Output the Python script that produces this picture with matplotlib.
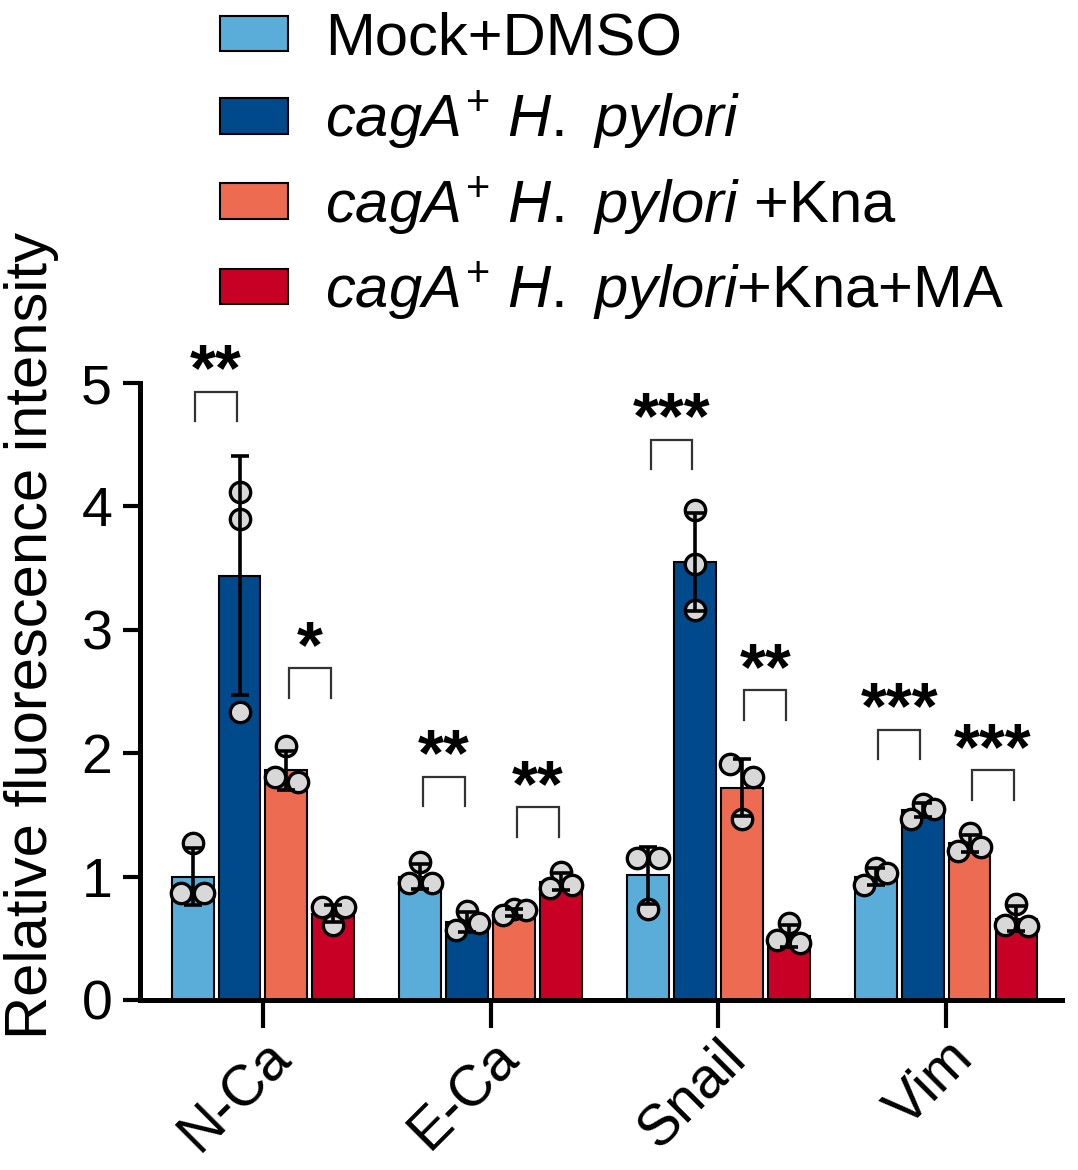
import numpy as np
import matplotlib
matplotlib.use("Agg")
import matplotlib.pyplot as plt
from matplotlib.patches import Patch

plt.rcParams['font.family'] = ['Liberation Sans', 'DejaVu Sans']
plt.rcParams['mathtext.fontset'] = 'custom'
plt.rcParams['mathtext.it'] = 'Liberation Sans:italic'
plt.rcParams['mathtext.rm'] = 'Liberation Sans'
plt.rcParams['mathtext.bf'] = 'Liberation Sans:bold'

# ---------------- data ----------------
categories = ["N-Ca", "E-Ca", "Snail", "Vim"]
series_labels = [
    "Mock+DMSO",
    r"$\mathit{cagA}^{+}$ $\mathit{H.}$ $\mathit{pylori}$",
    r"$\mathit{cagA}^{+}$ $\mathit{H.}$ $\mathit{pylori}$ +Kna",
    r"$\mathit{cagA}^{+}$ $\mathit{H.}$ $\mathit{pylori}$+Kna+MA",
]
mock_mean = [1.00, 1.00, 1.01, 1.00]
hp_mean = [3.44, 0.63, 3.55, 1.54]
kna_mean = [1.86, 0.71, 1.72, 1.27]
ma_mean = [0.70, 0.96, 0.52, 0.66]

mock_sd = [0.23, 0.10, 0.23, 0.07]
hp_sd = [0.97, 0.08, 0.40, 0.06]
kna_sd = [0.16, 0.03, 0.23, 0.07]
ma_sd = [0.07, 0.07, 0.09, 0.10]

mock_pts = [[1.27, 0.87, 0.87], [1.12, 0.95, 0.95], [1.15, 1.15, 0.74], [1.07, 1.03, 0.93]]
hp_pts = [[4.12, 3.90, 2.33], [0.72, 0.62, 0.57], [3.97, 3.53, 3.16], [1.59, 1.55, 1.47]]
kna_pts = [[2.06, 1.81, 1.77], [0.74, 0.73, 0.69], [1.91, 1.81, 1.47], [1.35, 1.24, 1.21]]
ma_pts = [[0.75, 0.75, 0.61], [1.04, 0.93, 0.91], [0.62, 0.49, 0.46], [0.78, 0.61, 0.60]]

# significance: (category, first series, second series, bracket top height, label)
sig_cat = [0, 0, 1, 1, 2, 2, 3, 3]
sig_first = [0, 2, 0, 2, 0, 2, 0, 2]
sig_top = [4.93, 2.69, 1.81, 1.56, 4.54, 2.51, 2.19, 1.86]
sig_text = ["**", "*", "**", "**", "***", "**", "***", "***"]

yticks = [0, 1, 2, 3, 4, 5]
ylabel = "Relative fluorescence intensity"

colors = ["#5AADD8", "#004A8C", "#EC6B51", "#C80026"]

means = [mock_mean, hp_mean, kna_mean, ma_mean]
sds = [mock_sd, hp_sd, kna_sd, ma_sd]
pts = [mock_pts, hp_pts, kna_pts, ma_pts]

# ---------------- figure ----------------
W, H = 1078, 1170
fig = plt.figure(figsize=(W / 100, H / 100), dpi=100)
ax = fig.add_axes([140 / W, 1 - 1000 / H, (1062 - 140) / W, (1000 - 383) / H])

x = np.arange(len(categories))
step = 0.206
width = 0.184
offs = (np.arange(4) - 1.5) * step


def spread(vals, thr=0.12, d=0.05):
    """simple cluster spreading of replicate points"""
    order = np.argsort(vals)[::-1]
    v = np.asarray(vals)[order]
    clusters = [[0]]
    for i in range(1, len(v)):
        if v[clusters[-1][-1]] - v[i] < thr:
            clusters[-1].append(i)
        else:
            clusters.append([i])
    res = np.zeros(len(v))
    for c in clusters:
        if len(c) == 2:
            res[c[0]], res[c[1]] = -d, d
        elif len(c) == 3:
            res[c[0]], res[c[1]], res[c[2]] = 0, d, -d
    out = np.zeros(len(v))
    out[order] = res
    return out


for j in range(4):
    ax.bar(x + offs[j], means[j], width=width, color=colors[j],
           edgecolor="black", linewidth=1.5, zorder=2)
    for i in range(len(categories)):
        vals = pts[j][i]
        dx = spread(vals)
        ax.scatter(x[i] + offs[j] + dx, vals, s=215, facecolor="#D8D8D8",
                   edgecolor="black", linewidth=2.4, zorder=3, clip_on=False)
    ax.errorbar(x + offs[j], means[j], yerr=sds[j], fmt="none", ecolor="black",
                elinewidth=2.6, capsize=6.5, capthick=2.6, zorder=4)

# significance brackets
leg = 0.24
half = 0.092
for c, f, top, t in zip(sig_cat, sig_first, sig_top, sig_text):
    xm = x[c] + (offs[f] + offs[f + 1]) / 2
    ax.plot([xm - half, xm - half, xm + half, xm + half],
            [top - leg, top, top, top - leg], color="#333333", lw=1.6,
            zorder=5, clip_on=False, solid_joinstyle="miter")
    ax.text(xm, top + 0.01, t, ha="center", va="baseline", fontsize=48,
            fontweight="bold", clip_on=False)

ax.set_xlim(-0.54, 3.509)
ax.set_ylim(0, 5)
ax.set_yticks(yticks)
ax.set_yticklabels([str(v) for v in yticks], fontsize=40)
ax.set_xticks(x)
ax.set_xticklabels(categories, fontsize=41, rotation=45, ha="right",
                   rotation_mode="anchor")
ax.set_ylabel(ylabel, fontsize=43)
ax.yaxis.set_label_coords(-0.088, 0.59)

for s in ["top", "right"]:
    ax.spines[s].set_visible(False)
for s in ["left", "bottom"]:
    ax.spines[s].set_linewidth(3.6)
ax.tick_params(axis="y", length=12, width=3, pad=8)
ax.tick_params(axis="x", length=20, width=3, pad=2)

handles = [Patch(facecolor=colors[j], edgecolor="black", linewidth=1.5) for j in range(4)]
fig.legend(handles, series_labels, loc="upper left", bbox_to_anchor=(214 / W, 0.995),
           frameon=False, fontsize=43, handlelength=1.14, handleheight=0.54,
           handletextpad=0.62, labelspacing=0.36, borderpad=0.1, borderaxespad=0)

fig.savefig("out.png", dpi=100)
